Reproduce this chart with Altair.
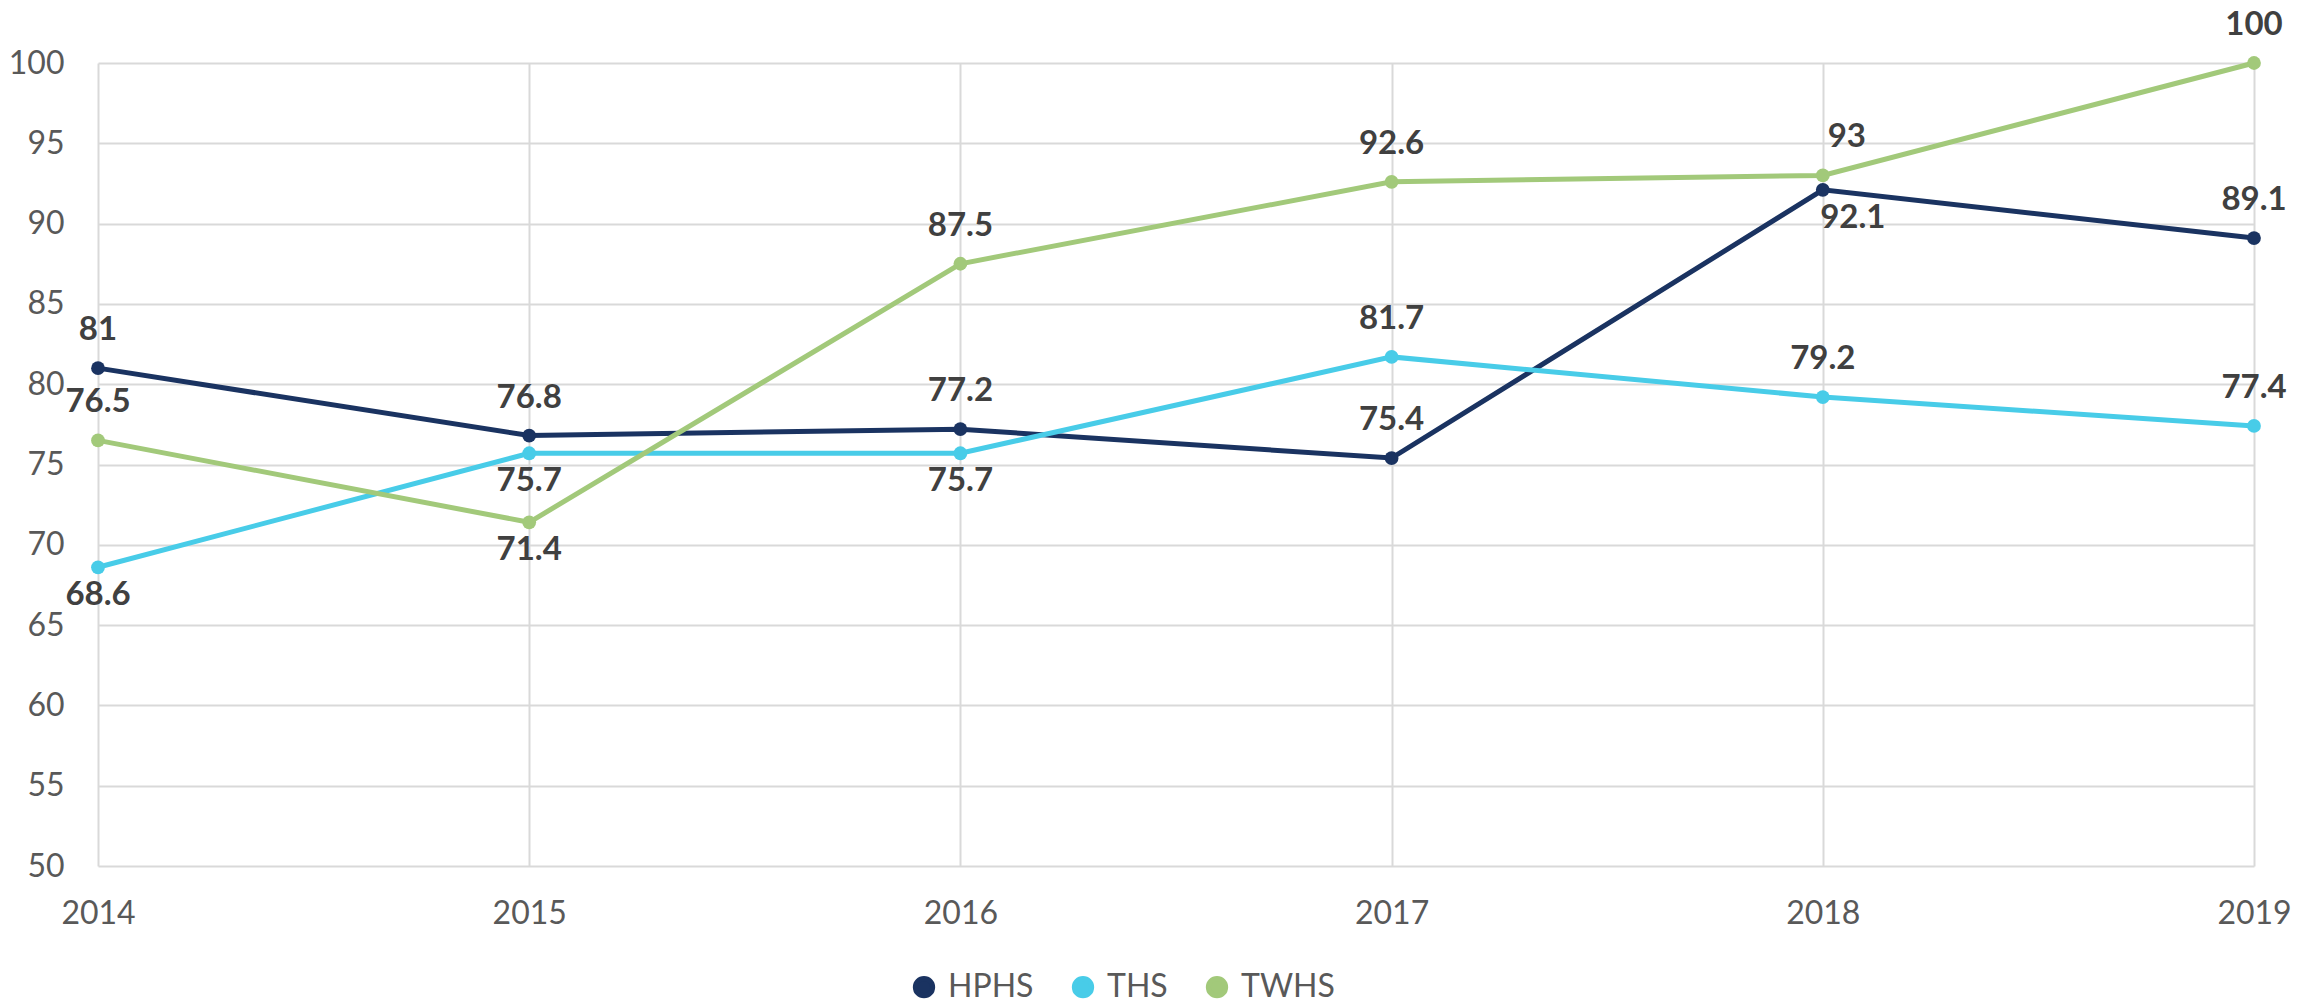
import altair as alt
import pandas as pd

years = [2014, 2015, 2016, 2017, 2018, 2019]
series_names = ["HPHS", "THS", "TWHS"]
hphs = [81, 76.8, 77.2, 75.4, 92.1, 89.1]
ths = [68.6, 75.7, 75.7, 81.7, 79.2, 77.4]
twhs = [76.5, 71.4, 87.5, 92.6, 93, 100]
colors = ["#1A3361", "#48CCE8", "#A2C97A"]
y_ticks = [50, 55, 60, 65, 70, 75, 80, 85, 90, 95, 100]

# label placement relative to point
label_side = {
    "HPHS": ["above", "above", "above", "above", "below_right", "above"],
    "THS": ["below", "below", "below", "above", "above", "above"],
    "TWHS": ["above", "below", "above", "above", "above_right", "above"],
}

rows = []
for name, vals in zip(series_names, [hphs, ths, twhs]):
    for i, (yr, v) in enumerate(zip(years, vals)):
        rows.append({"year": yr, "value": v, "series": name,
                     "label": f"{v:g}", "side": label_side[name][i]})
df = pd.DataFrame(rows)

FONT = "Lato"

x = alt.X("year:Q", scale=alt.Scale(domain=[2014, 2019], nice=False, zero=False),
          axis=alt.Axis(values=years, format="d", title=None, grid=True,
                        gridColor="#D9D9D9", gridWidth=2, domain=False, ticks=False,
                        labelFont=FONT, labelFontSize=32, labelColor="#595959",
                        labelPadding=32, labelFlush=False))
y = alt.Y("value:Q", scale=alt.Scale(domain=[50, 100], nice=False, zero=False),
          axis=alt.Axis(values=y_ticks, title=None, grid=True,
                        gridColor="#D9D9D9", gridWidth=2, domain=False, ticks=False,
                        labelFont=FONT, labelFontSize=32, labelColor="#595959",
                        labelPadding=34, labelFlush=False))

color = alt.Color("series:N", scale=alt.Scale(domain=series_names, range=colors),
                  legend=alt.Legend(orient="none", direction="horizontal",
                                    legendX=810, legendY=908,
                                    symbolSize=300, symbolStrokeWidth=5,
                                    labelFont=FONT, labelFontSize=32,
                                    labelColor="#595959", labelOffset=8,
                                    columnPadding=30))

lines = alt.Chart(df).mark_line(strokeWidth=5, point=alt.OverlayMarkDef(
    filled=True, size=190, opacity=1)).encode(
    x=x, y=y, color=color,
)

offsets = {"above": (0, -38), "below": (0, 28),
           "above_right": (24, -38), "below_right": (30, 28)}

label_layers = []
for side, (ddx, ddy) in offsets.items():
    label_layers.append(
        alt.Chart(df).transform_filter(alt.datum.side == side)
        .mark_text(font=FONT, fontSize=33, fontWeight="bold", color="#404040",
                   baseline="middle", align="center", dx=ddx, dy=ddy)
        .encode(x=x, y=y, text="label:N")
    )

chart = alt.layer(lines, *label_layers).properties(
    width=2156, height=803,
    autosize=alt.AutoSizeParams(type="none"),
    padding={"left": 90, "top": 55, "right": 59, "bottom": 137},
).configure_view(stroke=None).configure_legend(title=None)

chart.save("out.html", embed_options={"renderer": "svg", "actions": False})
